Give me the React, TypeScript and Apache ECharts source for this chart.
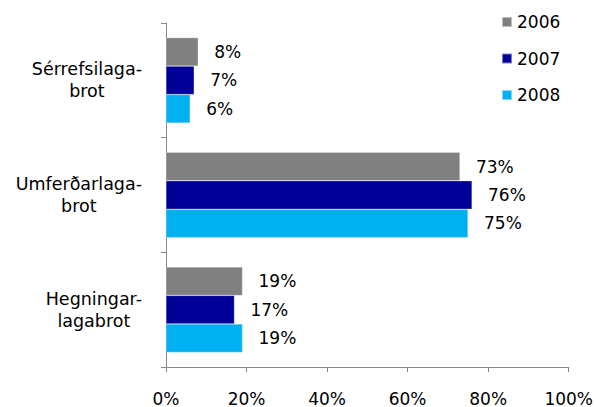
import React, { useEffect, useRef } from "react";
import * as echarts from "echarts";

const categories = ["Sérrefsilaga-\nbrot", "Umferðarlaga-\nbrot", "Hegningar-\nlagabrot"];
const years = ["2006", "2007", "2008"];
const values2006 = [8, 73, 19];
const values2007 = [7, 76, 17];
const values2008 = [6, 75, 19];
const colors = ["#808080", "#000099", "#00B0F0"];
const xTicks = { min: 0, max: 100, interval: 20 };

const FONT = "DejaVu Sans";
const FS = 17;

export default function App() {
  const ref = useRef<HTMLDivElement>(null);
  useEffect(() => {
    const chart = echarts.init(ref.current!, null, { renderer: "svg" });
    const seriesData = [values2006, values2007, values2008];
    chart.setOption({
      animation: false,
      textStyle: { fontFamily: FONT },
      grid: { left: 166, right: 27, top: 23, bottom: 40, containLabel: false },
      legend: {
        orient: "vertical",
        left: 496,
        top: 7,
        itemWidth: 10,
        itemHeight: 10,
        itemGap: 16.5,
        icon: "rect",
        data: years,
        textStyle: { fontFamily: FONT, fontSize: FS, color: "#000", lineHeight: 20 },
      },
      xAxis: {
        type: "value",
        min: xTicks.min,
        max: xTicks.max,
        interval: xTicks.interval,
        axisLine: { show: true, lineStyle: { color: "#868686", width: 1 } },
        axisTick: { show: true, inside: false, length: 5, lineStyle: { color: "#868686" } },
        splitLine: { show: false },
        axisLabel: {
          formatter: "{value}%",
          fontFamily: FONT,
          fontSize: FS,
          color: "#000",
          margin: 23,
        },
      },
      yAxis: {
        type: "category",
        inverse: true,
        data: categories,
        axisLine: { show: true, lineStyle: { color: "#868686", width: 1 } },
        axisTick: { show: true, inside: false, length: 5, lineStyle: { color: "#868686" } },
        axisLabel: {
          fontFamily: FONT,
          fontSize: 17.5,
          color: "#000",
          margin: 24,
          align: "right",
          lineHeight: 22,
          formatter: (v: string) =>
            v.split("\n").map((s) => `{c|${s}}`).join("\n"),
          rich: {
            c: { align: "center", fontFamily: FONT, fontSize: 17.5, color: "#000", lineHeight: 22 },
          },
        },
      },
      series: years.map((y, i) => ({
        name: y,
        type: "bar",
        data: seriesData[i],
        barGap: "0%",
        barCategoryGap: "25.5%",
        itemStyle: { color: colors[i], borderColor: "rgba(255,255,255,0.5)", borderWidth: 0.5 },
        label: {
          show: true,
          position: "right",
          distance: 16,
          formatter: "{c}%",
          fontFamily: FONT,
          fontSize: FS,
          color: "#000",
        },
      })),
    });
    return () => chart.dispose();
  }, []);
  return <div ref={ref} style={{ width: 596, height: 407, position: "absolute", left: 0, top: 0 }} />;
}
